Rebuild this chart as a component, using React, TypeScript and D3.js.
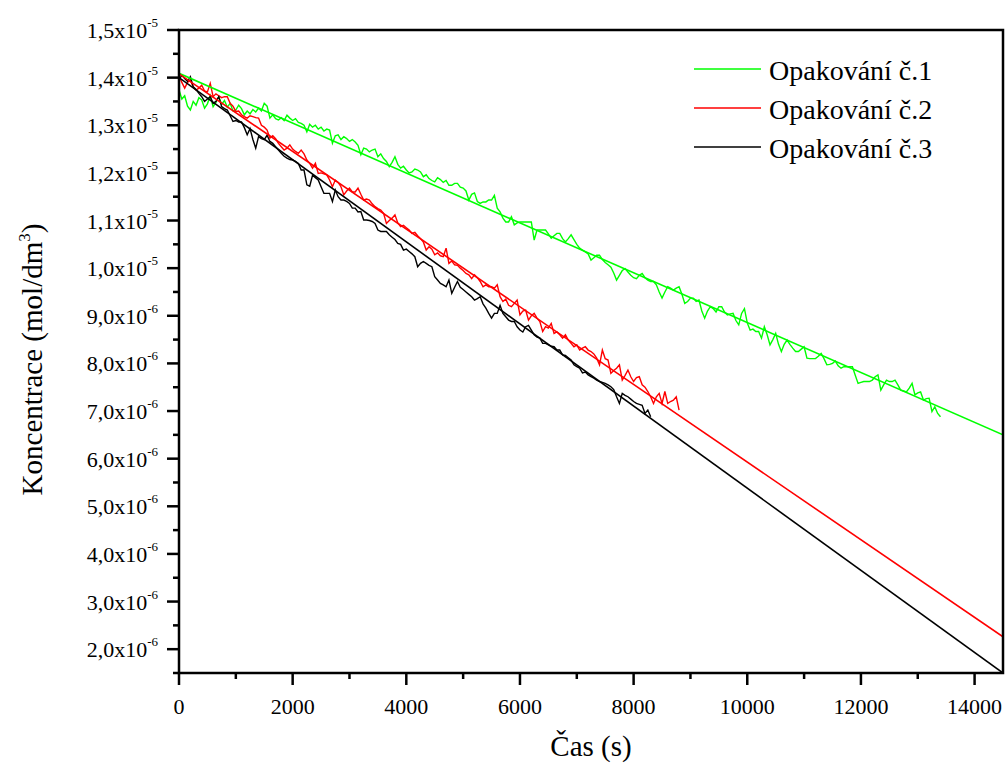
import React from "react";
import * as d3 from "d3";

// Concentration values in units of 1e-6 mol/dm3, sampled every 50 s
const TIME_STEP = 50;

const green = [
  13.74, 13.55, 13.62, 13.4, 13.32, 13.5, 13.42, 13.58, 13.53, 13.36,
  13.45, 13.62, 13.39, 13.48, 13.6, 13.44, 13.52, 13.38, 13.46, 13.3,
  13.32, 13.42, 13.35, 13.22, 13.3, 13.24, 13.33, 13.28, 13.36, 13.3,
  13.46, 13.4, 13.15, 13.22, 13.14, 13.11, 13.16, 13.1, 13.21, 13.15,
  13.1, 13.14, 13.06, 13.04, 13.0, 12.86, 13.02, 12.96, 13.0, 12.92,
  12.96, 12.88, 12.92, 12.9, 12.62, 12.78, 12.8, 12.7, 12.76, 12.72,
  12.66, 12.7, 12.65, 12.58, 12.38, 12.52, 12.5, 12.44, 12.48, 12.5,
  12.34, 12.4, 12.3, 12.24, 12.13, 12.22, 12.34, 12.18, 12.1, 12.14,
  12.06, 12.0, 12.02, 12.08, 12.06, 12.02, 11.92, 11.96, 11.88, 11.84,
  11.81, 11.9, 11.86, 11.8, 11.84, 11.74, 11.74, 11.78, 11.78, 11.7,
  11.68, 11.62, 11.43, 11.55, 11.58, 11.4, 11.36, 11.39, 11.39, 11.43,
  11.43, 11.53, 11.26, 11.18, 11.05, 10.97, 10.97, 11.08, 10.91, 10.95,
  10.97, 10.97, 10.97, 10.97, 10.97, 10.59, 10.8, 10.8, 10.8, 10.8,
  10.72, 10.63, 10.68, 10.73, 10.73, 10.62, 10.55, 10.62, 10.7, 10.6,
  10.5, 10.42, 10.38, 10.34, 10.3, 10.17, 10.22, 10.27, 10.27, 10.18,
  10.12, 10.07, 10.02, 9.9, 9.75, 9.85, 9.95, 9.99, 9.92, 9.85,
  9.8, 9.78, 9.85, 9.89, 9.8, 9.75, 9.72, 9.72, 9.65, 9.5,
  9.37, 9.5, 9.61, 9.58, 9.54, 9.58, 9.61, 9.45, 9.26, 9.3,
  9.37, 9.37, 9.3, 9.33, 9.1, 8.95, 9.1, 9.19, 9.15, 9.08,
  9.19, 9.19, 9.08, 9.02, 9.04, 9.05, 8.9, 8.81, 9.05, 9.15,
  8.85, 8.7, 8.72, 8.67, 8.67, 8.53, 8.77, 8.6, 8.39, 8.5,
  8.63, 8.4, 8.25, 8.4, 8.49, 8.4, 8.32, 8.25, 8.25, 8.3,
  8.35, 8.11, 8.1, 8.1, 8.1, 8.15, 8.21, 8.1, 7.97, 7.98,
  8.0, 8.05, 7.95, 7.9, 7.93, 7.93, 7.93, 7.93, 7.75, 7.58,
  7.6, 7.62, 7.62, 7.62, 7.65, 7.72, 7.76, 7.44, 7.55, 7.65,
  7.62, 7.62, 7.65, 7.55, 7.44, 7.42, 7.4, 7.48, 7.58, 7.34,
  7.38, 7.4, 7.23, 7.26, 7.27, 6.99, 7.09, 6.95, 6.88,
];

const red = [
  14.05, 13.9, 13.78, 13.9, 13.95, 13.8, 13.74, 13.78, 13.84, 13.72,
  13.7, 13.88, 13.6, 13.66, 13.62, 13.58, 13.6, 13.6, 13.46, 13.4,
  13.29, 13.3, 13.22, 13.18, 13.15, 13.2, 13.18, 13.16, 13.15, 13.0,
  12.96, 12.9, 12.73, 12.78, 12.72, 12.62, 12.55, 12.48, 12.52, 12.59,
  12.5, 12.45, 12.41, 12.48, 12.4, 12.27, 12.2, 12.1, 12.2, 11.99,
  12.0, 11.98, 11.96, 11.85, 11.71, 11.85, 11.8, 11.71, 11.54, 11.62,
  11.68, 11.6, 11.6, 11.68, 11.55, 11.43, 11.45, 11.43, 11.35, 11.29,
  11.25, 11.22, 11.15, 10.94, 11.0, 11.05, 11.12, 10.95, 10.87, 10.9,
  10.85, 10.8, 10.73, 10.75, 10.68, 10.62, 10.55, 10.38, 10.45, 10.4,
  10.28, 10.32, 10.26, 10.24, 10.42, 10.1, 10.15, 10.07, 10.06, 10.0,
  9.95, 9.89, 9.86, 9.78, 9.86, 9.8, 9.72, 9.61, 9.65, 9.61,
  9.61, 9.58, 9.65, 9.4, 9.3, 9.35, 9.22, 9.19, 9.26, 9.33,
  9.02, 9.1, 9.12, 8.91, 9.0, 9.05, 8.95, 8.88, 8.67, 8.77,
  8.74, 8.84, 8.63, 8.66, 8.6, 8.53, 8.6, 8.49, 8.42, 8.35,
  8.39, 8.28, 8.32, 8.35, 8.28, 8.25, 8.2, 8.11, 7.97, 8.28,
  8.1, 8.07, 7.79, 7.85, 7.9, 7.97, 7.65, 7.75, 7.86, 7.72,
  7.62, 7.7, 7.72, 7.55, 7.5, 7.41, 7.3, 7.16, 7.3, 7.37,
  7.16, 7.41, 7.16, 7.2, 7.23, 7.3, 7.02,
];

const black = [
  13.95, 14.05, 13.98, 13.92, 14.02, 13.81, 13.75, 13.67, 13.6, 13.5,
  13.55, 13.6, 13.46, 13.5, 13.6, 13.39, 13.35, 13.32, 13.2, 13.08,
  13.1, 13.07, 13.07, 12.95, 12.8, 12.93, 12.7, 12.52, 12.76, 12.72,
  12.7, 12.79, 12.66, 12.62, 12.55, 12.48, 12.41, 12.35, 12.31, 12.28,
  12.27, 12.24, 12.2, 12.06, 12.06, 11.75, 11.72, 11.95, 11.9, 11.85,
  11.71, 11.57, 11.57, 11.57, 11.4, 11.64, 11.5, 11.43, 11.43, 11.4,
  11.36, 11.26, 11.26, 11.18, 11.19, 11.01, 11.01, 11.0, 10.98, 10.94,
  10.8, 10.77, 10.77, 10.77, 10.7, 10.65, 10.6, 10.52, 10.5, 10.38,
  10.4, 10.35, 10.3, 10.24, 10.03, 10.1, 10.14, 10.1, 10.06, 10.03,
  9.82, 9.75, 9.68, 9.65, 9.61, 9.75, 9.47, 9.6, 9.72, 9.6,
  9.55, 9.5, 9.45, 9.4, 9.33, 9.36, 9.4, 9.25, 9.16, 9.05,
  8.95, 9.05, 9.05, 9.22, 9.05, 8.98, 8.91, 8.88, 8.88, 8.77,
  8.7, 8.66, 8.77, 8.8, 8.7, 8.6, 8.55, 8.53, 8.42, 8.42,
  8.39, 8.36, 8.35, 8.28, 8.28, 8.18, 8.17, 8.12, 8.07, 7.97,
  7.93, 7.9, 7.8, 7.82, 7.76, 7.72, 7.69, 7.65, 7.62, 7.6,
  7.58, 7.55, 7.51, 7.45, 7.3, 7.16, 7.37, 7.33, 7.3, 7.25,
  7.2, 7.16, 7.14, 7.12, 6.95, 7.02, 6.88,
];

// Linear fits: [time, value]
const fitGreen: [number, number][] = [[0, 14.09], [14500, 6.5]];
const fitRed: [number, number][] = [[0, 14.08], [14500, 2.26]];
const fitBlack: [number, number][] = [[0, 14.0], [14500, 1.5]];

const seriesNames = ["Opakování č.1", "Opakování č.2", "Opakování č.3"];
const seriesColors = ["#00ff00", "#ff0000", "#000000"];

const xMajorTicks = [0, 2000, 4000, 6000, 8000, 10000, 12000, 14000];
const xMinorTicks = [1000, 3000, 5000, 7000, 9000, 11000, 13000];
const yMajorTicks = [2, 3, 4, 5, 6, 7, 8, 9, 10, 11, 12, 13, 14, 15];
const yMinorTicks = [1.5, 2.5, 3.5, 4.5, 5.5, 6.5, 7.5, 8.5, 9.5, 10.5, 11.5, 12.5, 13.5, 14.5];

const W = 1008;
const H = 767;
const L = 179;
const R = 1003;
const T = 30;
const B = 673;

const FONT = "'Liberation Serif', 'Times New Roman', serif";

function yLabel(v: number) {
  if (v >= 10) {
    return { m: (v / 10).toFixed(1).replace(".", ","), e: "-5" };
  }
  return { m: v.toFixed(1).replace(".", ","), e: "-6" };
}

export default function App() {
  const x = d3.scaleLinear().domain([0, 14500]).range([L, R]);
  const y = d3.scaleLinear().domain([1.5, 15]).range([B, T]);

  const line = d3
    .line<[number, number]>()
    .x((d) => x(d[0]))
    .y((d) => y(d[1]));

  const toPts = (vals: number[]): [number, number][] =>
    vals.map((v, i) => [i * TIME_STEP, v]);

  const data = [green, red, black];
  const fits = [fitGreen, fitRed, fitBlack];

  return (
    <svg
      width={W}
      height={H}
      style={{ position: "absolute", left: 0, top: 0, background: "#fff" }}
      fontFamily={FONT}
    >
      <defs>
        <clipPath id="plotclip">
          <rect x={L} y={T} width={R - L} height={B - T} />
        </clipPath>
      </defs>
      <rect x={0} y={0} width={W} height={H} fill="#fff" />

      <g clipPath="url(#plotclip)" fill="none" strokeWidth={1.4}>
        {data.map((vals, i) => (
          <path key={"d" + i} d={line(toPts(vals)) || ""} stroke={seriesColors[i]} strokeLinejoin="miter" />
        ))}
        {fits.map((f, i) => (
          <path key={"f" + i} d={line(f) || ""} stroke={seriesColors[i]} strokeWidth={1.6} />
        ))}
      </g>

      {/* frame */}
      <rect x={L} y={T} width={R - L} height={B - T} fill="none" stroke="#000" strokeWidth={2.5} />

      {/* x ticks */}
      {xMajorTicks.map((t) => (
        <g key={"xt" + t}>
          <line x1={x(t)} x2={x(t)} y1={B} y2={B + 12} stroke="#000" strokeWidth={2.5} />
          <text x={x(t)} y={B + 41} textAnchor="middle" fontSize={22}>
            {t}
          </text>
        </g>
      ))}
      {xMinorTicks.map((t) => (
        <line key={"xm" + t} x1={x(t)} x2={x(t)} y1={B} y2={B + 6} stroke="#000" strokeWidth={2.5} />
      ))}

      {/* y ticks */}
      {yMajorTicks.map((v) => {
        const lab = yLabel(v);
        return (
          <g key={"yt" + v}>
            <line x1={L - 12} x2={L} y1={y(v)} y2={y(v)} stroke="#000" strokeWidth={2.5} />
            <text x={L - 21} y={y(v) + 8} textAnchor="end" fontSize={22}>
              {lab.m + "x10"}
              <tspan fontSize={13} dy={-11}>
                {lab.e}
              </tspan>
            </text>
          </g>
        );
      })}
      {yMinorTicks.map((v) => (
        <line key={"ym" + v} x1={L - 6} x2={L} y1={y(v)} y2={y(v)} stroke="#000" strokeWidth={2.5} />
      ))}

      {/* axis titles */}
      <text x={(L + R) / 2} y={756} textAnchor="middle" fontSize={29}>
        Čas (s)
      </text>
      <text transform={`translate(42, ${(T + B) / 2 + 8}) rotate(-90)`} textAnchor="middle" fontSize={29}>
        Koncentrace (mol/dm
        <tspan fontSize={17} dy={-12}>
          3
        </tspan>
        <tspan dy={12}>)</tspan>
      </text>

      {/* legend */}
      {seriesNames.map((n, i) => (
        <g key={"lg" + i}>
          <line x1={694} x2={761} y1={69 + i * 39} y2={69 + i * 39} stroke={seriesColors[i]} strokeWidth={1.6} />
          <text x={769} y={80 + i * 39} fontSize={28}>
            {n}
          </text>
        </g>
      ))}
    </svg>
  );
}
